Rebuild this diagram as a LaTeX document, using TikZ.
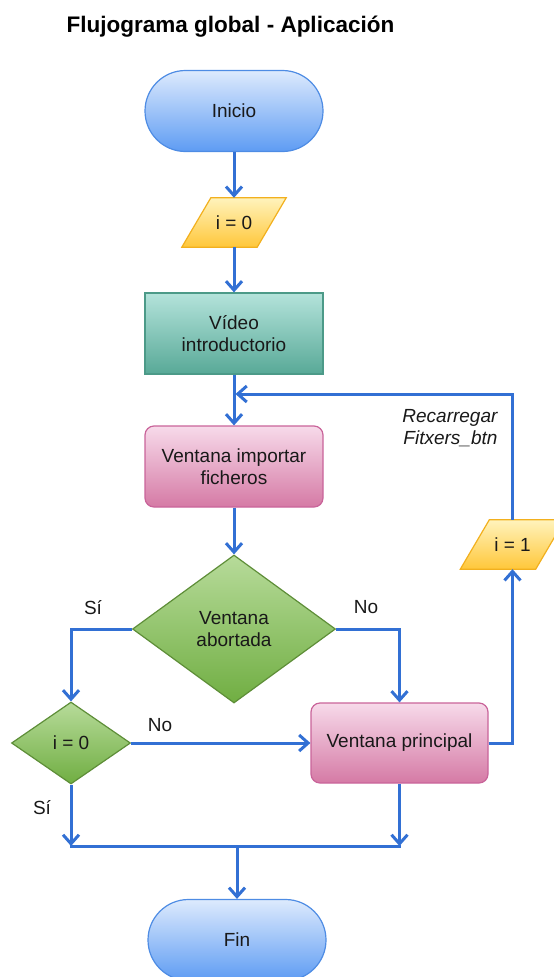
\documentclass[tikz,border=0pt]{standalone}
\usepackage{fontspec}
\setmainfont{Liberation Sans}
\usetikzlibrary{arrows.meta,shapes.geometric,backgrounds}
\definecolor{ln}{RGB}{50,112,212}
\definecolor{bluetop}{HTML}{DDEAFD}
\definecolor{bluebot}{HTML}{5E9CF3}
\definecolor{bluebd}{HTML}{4E8CE4}
\definecolor{yeltop}{HTML}{FFF3BC}
\definecolor{yelbot}{HTML}{FFC73A}
\definecolor{yelbd}{HTML}{F2B01E}
\definecolor{tealtop}{HTML}{B4E3DB}
\definecolor{tealbot}{HTML}{58A997}
\definecolor{tealbd}{HTML}{4C9A88}
\definecolor{pinktop}{HTML}{F7DAEA}
\definecolor{pinkbot}{HTML}{D57AA5}
\definecolor{pinkbd}{HTML}{C9649A}
\definecolor{greentop}{HTML}{B7DB9A}
\definecolor{greenbot}{HTML}{70AE42}
\definecolor{greenbd}{HTML}{5E8E38}
\begin{document}
\begin{tikzpicture}[x=1pt,y=-1pt,
  txt/.style={font=\fontsize{19}{22}\selectfont, align=center, text=black!90},
  term/.style={txt, draw=bluebd, line width=1.2pt, top color=bluetop, bottom color=bluebot,
    rounded corners=40.5pt, minimum width=178pt, minimum height=81pt, inner sep=0pt},
  parabox/.style={txt, minimum width=104pt, minimum height=49pt, inner sep=0pt},
  parashape/.style={draw=yelbd, line width=1.2pt, top color=yeltop, bottom color=yelbot},
  procbox/.style={txt, draw=tealbd, line width=1.2pt, top color=tealtop, bottom color=tealbot,
    minimum width=178pt, minimum height=81pt, inner sep=0pt},
  winbox/.style={txt, draw=pinkbd, line width=1.2pt, top color=pinktop, bottom color=pinkbot,
    rounded corners=9pt, minimum width=178pt, minimum height=81pt, inner sep=0pt},
  decision/.style={txt, diamond, draw=greenbd, line width=1.2pt, top color=greentop, bottom color=greenbot, inner sep=0pt},
  conn/.style={draw=ln, line width=3pt, -{Straight Barb[length=9pt,width=16pt]}},
  plainline/.style={draw=ln, line width=3pt},
  lbl/.style={txt}
]
\clip (0,0) rectangle (554,977);
\useasboundingbox (0,0) rectangle (554,977);

\node[font=\fontsize{22.5}{26}\selectfont\bfseries, anchor=base] (title) at (230.5,32) {Flujograma global - Aplicación};

\node[term] (inicio) at (234,111) {Inicio};
\node[parabox] (p1) at (234,222.5) {i = 0};
\node[procbox] (video) at (234,333.5) {Vídeo\\introductorio};
\node[winbox] (vif) at (234,466.5) {Ventana importar\\ficheros};
\node[decision, minimum width=203pt, minimum height=148pt] (d1) at (234,629) {Ventana\\abortada};
\node[decision, minimum width=119pt, minimum height=82pt] (d2) at (71,743) {i = 0};
\node[winbox, minimum width=177pt, minimum height=80pt] (vp) at (399.5,743) {Ventana principal};
\node[parabox] (p2) at (512.5,544.5) {i = 1};
\node[term] (fin) at (237,940) {Fin};

\begin{pgfonlayer}{background}
\path[parashape] (p1.south west) -- ([xshift=-29pt]p1.south east) -- (p1.north east) -- ([xshift=29pt]p1.north west) -- cycle;
\path[parashape] (p2.south west) -- ([xshift=-29pt]p2.south east) -- (p2.north east) -- ([xshift=29pt]p2.north west) -- cycle;
\end{pgfonlayer}

\node[lbl] (si1) at (93,608) {Sí};
\node[lbl] (no1) at (366,607) {No};
\node[lbl] (no2) at (160,725) {No};
\node[lbl] (si2) at (42,808) {Sí};
\node[txt, font=\fontsize{19}{22}\selectfont\itshape, align=right, anchor=east] (recar) at (501,428) {Recarregar\\Fitxers\_btn};

\coordinate (jn) at (234,394);
\coordinate (bl) at (71,846);
\coordinate (br) at (399.5,846);
\coordinate (bm) at (237,846);

\draw[conn] (inicio.south) -- (p1.north);
\draw[conn] (p1.south) -- (video.north);
\draw[conn] (video.south) -- (vif.north);
\draw[conn] (p2.north) |- ([xshift=1.5pt]jn);
\draw[conn] (vif.south) -- (d1.north);
\draw[conn] (d1.west) -| (d2.north);
\draw[conn] (d1.east) -| (vp.north);
\draw[conn] (d2.east) -- (vp.west);
\draw[conn] (vp.east) -| (p2.south);
\draw[conn] (d2.south) -- (bl);
\draw[conn] (vp.south) -- (br);
\draw[plainline] ([xshift=-1.5pt]bl) -- ([xshift=1.5pt]br);
\draw[conn] (bm) -- (fin.north);
\end{tikzpicture}
\end{document}
